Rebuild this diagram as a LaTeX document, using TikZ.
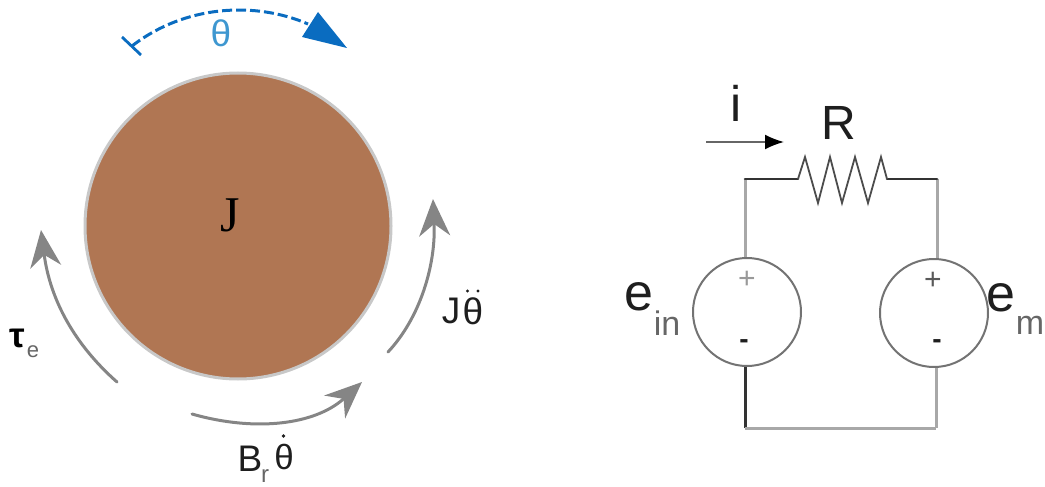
\documentclass[tikz,border=0pt]{standalone}
\usepackage{fontspec}
\setmainfont{Liberation Sans}
\newfontfamily\serifface{Liberation Serif}
\usetikzlibrary{arrows.meta}
\definecolor{wheel}{HTML}{B07653}
\definecolor{rim}{HTML}{C8C8C8}
\definecolor{motion}{HTML}{0A6CC0}
\definecolor{motiontxt}{HTML}{3E97D0}
\definecolor{flow}{HTML}{858585}
\definecolor{wire}{HTML}{A8A8A8}
\definecolor{wiredark}{HTML}{333333}
\definecolor{ink}{HTML}{1E1E1E}
\newcommand{\fsz}[1]{\fontsize{#1}{#1}\selectfont}
\tikzset{
  x=1pt,y=-1pt,
  lbl/.style={inner sep=0pt,text=ink,anchor=center},
  torque/.style={draw=flow,line width=3pt,line cap=round,-{Stealth[length=37pt,width=31pt,inset=12pt]}},
  source/.style={circle,draw=black!55,line width=2pt,minimum size=108pt,inner sep=0pt},
  wirelight/.style={draw=wire,line width=3pt},
  wireblack/.style={draw=wiredark,line width=3pt},
}
\begin{document}
\begin{tikzpicture}
\useasboundingbox (0,0) rectangle (1045,487);
% flywheel
\node[circle,fill=wheel,draw=rim,line width=3pt,minimum size=306pt,inner sep=0pt] (disk) at (238,226) {};
\node[lbl,text=black,font={\serifface\fsz{50}}] (jlabel) at (230,215) {J};
% theta indicator
\coordinate (thetaA) at (122,37);
\coordinate (thetaB) at (141,55);
\coordinate (thetaS) at (132,46);
\coordinate (thetaE) at (308,24);
\draw[motion,line width=2.8pt] (thetaA) -- (thetaB);
\draw[motion,line width=3pt,dash pattern=on 10pt off 4pt] (thetaS) .. controls (185,5) and (255,1) .. (thetaE);
\fill[motion] (318,12) -- (347,48) -- (302,37) -- cycle;
\node[lbl,text=motiontxt,font=\fsz{37}] (thetal) at (221,33) {θ};
% torque arrows
\coordinate (tauS) at (117,382);
\coordinate (tauE) at (41,230);
\coordinate (bS) at (192,414);
\coordinate (bE) at (362,382);
\coordinate (jS) at (388,352);
\coordinate (jE) at (433,199);
\draw[torque] (tauS) .. controls (75,345) and (50,300) .. (tauE);
\draw[torque] (bS) .. controls (255,432) and (315,425) .. (bE);
\draw[torque] (jS) .. controls (420,318) and (436,265) .. (jE);
\node[lbl,text=black,font={\bfseries\fsz{35}}] (taul) at (17,338) {τ};
\node[lbl,text=black!60,font=\fsz{22}] (taue) at (33,352) {e};
\node[lbl,font=\fsz{37}] (bl) at (250,459) {B};
\node[lbl,text=black!60,font=\fsz{24}] (br) at (265,476) {r};
\node[lbl,font=\fsz{35}] (bth) at (284,457) {θ};
\fill[ink] (283.5,436) circle (1.8pt);
\node[lbl,font=\fsz{37}] (jl) at (451,311) {J};
\node[lbl,font=\fsz{37}] (jth) at (473,311) {θ};
\fill[ink] (467.5,291) circle (1.7pt) (478,291) circle (1.7pt);
% circuit
\node[source] (ein) at (747,312) {};
\node[source] (em) at (934,313) {};
\coordinate (tl) at (745,179);
\coordinate (tr) at (937,179);
\coordinate (bl2) at (745,428);
\coordinate (br2) at (936,428);
\coordinate (rL) at (798,179);
\coordinate (rR) at (887,179);
\draw[wirelight] (ein.north -| tl) -- (tl);
\draw[wirelight] (em.north -| tr) -- (tr);
\draw[wiredark,line width=2.6pt,line cap=round] (tl) -- (rL);
\draw[wiredark,line width=2.6pt,line cap=round] (rR) -- (tr);
\draw[draw=black!70,line width=1.8pt,line join=miter] (rL) -- (805,157) -- (818,203) -- (830,157) -- (842,203) -- (855,157) -- (868,203) -- (881,157) -- (rR);
\draw[wireblack] (ein.south -| bl2) -- (bl2);
\draw[wirelight] (em.south -| br2) -- (br2);
\draw[wirelight] (bl2) -- (br2);
\node[lbl,text=black!40,font=\fsz{30}] (pl) at (747,280) {+};
\node[lbl,text=black!65,font=\fsz{30}] (pr) at (933,281) {+};
\node[lbl,font={\bfseries\fsz{28}}] (ml) at (744,344) {-};
\node[lbl,font={\bfseries\fsz{28}}] (mr) at (937,344) {-};
\node[lbl,font=\fsz{52}] (el) at (639,297) {e};
\node[lbl,text=black!60,font=\fsz{34}] (inl) at (667,323) {in};
\node[lbl,font=\fsz{52}] (eml) at (1001,298) {e};
\node[lbl,text=black!60,font=\fsz{34}] (mml) at (1030,325) {m};
\node[lbl,font=\fsz{48}] (rl) at (839,123) {R};
\node[lbl,font=\fsz{50}] (il) at (736,103) {i};
\coordinate (iS) at (706,142);
\coordinate (iE) at (784,142);
\draw[draw=black!60,line width=1.8pt,-{Latex[length=19pt,width=15pt,black]}] (iS) -- (iE);
\end{tikzpicture}
\end{document}
